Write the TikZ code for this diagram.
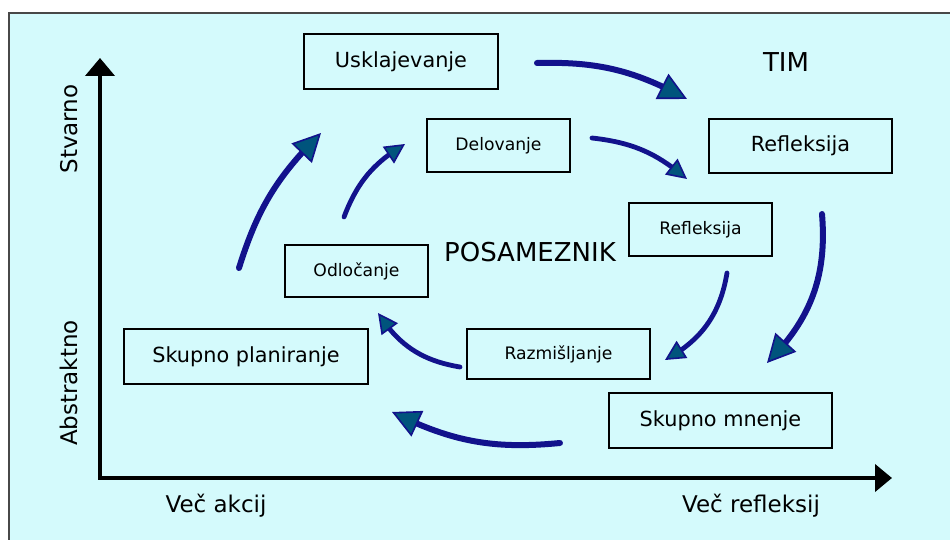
\documentclass[tikz,border=0pt]{standalone}
\usepackage{fontspec}
\setmainfont{DejaVu Sans}
\usetikzlibrary{arrows.meta,bending}

\definecolor{panel}{RGB}{212,250,252}
\definecolor{frame}{RGB}{72,72,72}
\definecolor{flow}{RGB}{18,18,140}
\definecolor{flowhead}{RGB}{0,84,124}

\tikzset{
  stage/.style={draw=black, line width=0.9pt, fill=panel, inner sep=0pt, align=center},
  team/.style={stage, font=\fontsize{10.4}{12}\selectfont},
  solo/.style={stage, font=\fontsize{8.6}{10}\selectfont},
  axis/.style={line width=2.1pt, black, line join=miter},
  axislabel/.style={font=\fontsize{11.5}{13}\selectfont},
  heading/.style={font=\fontsize{13}{15}\selectfont},
  bigflow/.style={draw=flow, line width=3pt, line cap=round,
    -{Triangle[length=14pt,width=14pt,fill=flowhead,line width=0.8pt]}},
  smallflow/.style={draw=flow, line width=2.4pt, line cap=round,
    -{Triangle[length=10pt,width=10pt,fill=flowhead,line width=0.8pt]}},
}

\begin{document}
\begin{tikzpicture}[x=0.5pt,y=0.5pt]
\useasboundingbox (0,0) rectangle (950,-540);

% background panel
\fill[panel] (9,-13) rectangle (952,-542);
\draw[frame, line width=1.3pt] (9,-542) -- (9,-13) -- (952,-13);

% axes
\coordinate (orig) at (100,-478);
\coordinate (ytip) at (100,-58);
\coordinate (xtip) at (892,-478);
\draw[axis, {Triangle[length=9pt,width=14.5pt]}-{Triangle[length=8.5pt,width=13.5pt]}]
  (ytip) -- (orig) -- (xtip);

\node[axislabel, rotate=90, anchor=base] (stvarno) at (77,-129) {Stvarno};
\node[axislabel, rotate=90, anchor=base] (abstr) at (77,-383) {Abstraktno};
\node[axislabel, anchor=base] (vecakc) at (216,-513) {Več akcij};
\node[axislabel, anchor=base] (vecref) at (751,-513) {Več refleksij};

% group headings
\node[heading, anchor=base] (tim) at (786,-72) {TIM};
\node[heading, anchor=base] (posam) at (530,-262) {POSAMEZNIK};

% stages
\node[team, minimum width=97pt, minimum height=27.5pt] (usk) at (401,-61.5) {Usklajevanje};
\node[solo, minimum width=71.5pt, minimum height=26.5pt] (del) at (498.5,-145.5) {Delovanje};
\node[team, minimum width=91.5pt, minimum height=27pt] (reft) at (800.5,-146) {Refleksija};
\node[solo, minimum width=71.5pt, minimum height=26.5pt] (refs) at (700.5,-229.5) {Refleksija};
\node[solo, minimum width=71.5pt, minimum height=26pt] (odl) at (356.5,-271) {Odločanje};
\node[team, minimum width=122pt, minimum height=27.5pt] (plan) at (246,-356.5) {Skupno planiranje};
\node[solo, minimum width=91.5pt, minimum height=25pt] (razm) at (558.5,-354) {Razmišljanje};
\node[team, minimum width=111.5pt, minimum height=27.5pt] (mnen) at (720.5,-420.5) {Skupno mnenje};

% cycle arrows: ends
\coordinate (a1s) at (239,-268); \coordinate (a1e) at (321,-133);
\coordinate (a2s) at (344,-217); \coordinate (a2e) at (405,-144);
\coordinate (a3s) at (537,-63);  \coordinate (a3e) at (687,-99);
\coordinate (a4s) at (592,-138); \coordinate (a4e) at (687,-179);
\coordinate (a5s) at (822,-214); \coordinate (a5e) at (767,-363);
\coordinate (a6s) at (727,-273); \coordinate (a6e) at (665,-360);
\coordinate (a7s) at (460,-367); \coordinate (a7e) at (378,-313);
\coordinate (a8s) at (560,-443); \coordinate (a8e) at (392,-412);

% team cycle
\draw[bigflow] (a1s) to[bend left=14] (a1e);
\draw[bigflow] (a3s) to[bend left=15] (a3e);
\draw[bigflow] (a5s) to[bend left=25] (a5e);
\draw[bigflow] (a8s) to[bend left=16] (a8e);

% individual cycle
\draw[smallflow] (a2s) to[bend left=19] (a2e);
\draw[smallflow] (a4s) to[bend left=17] (a4e);
\draw[smallflow] (a6s) to[bend left=26] (a6e);
\draw[smallflow] (a7s) to[bend left=24] (a7e);
\end{tikzpicture}
\end{document}
